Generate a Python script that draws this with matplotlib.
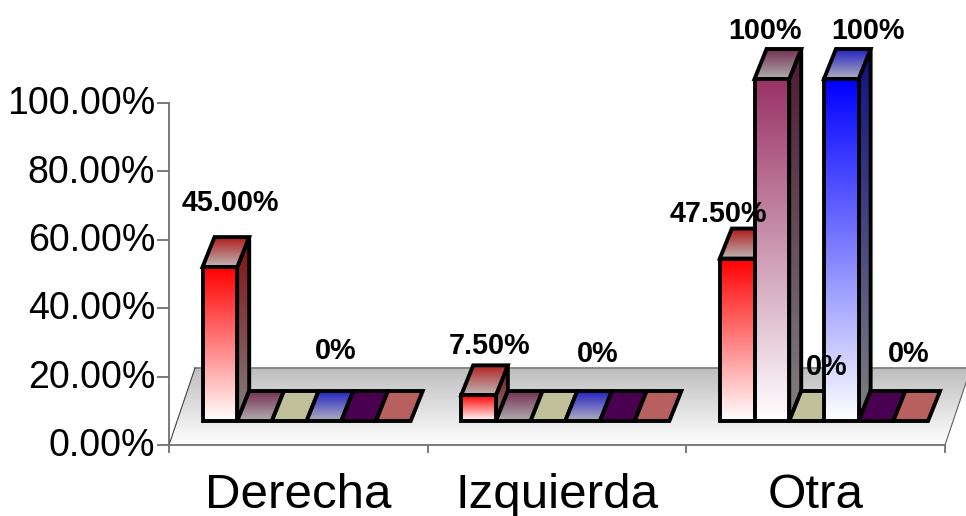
import matplotlib
matplotlib.use('Agg')
import matplotlib.pyplot as plt
import numpy as np
from matplotlib.colors import to_rgb
from matplotlib.patches import Polygon
from matplotlib.transforms import ScaledTranslation

plt.rcParams['font.family'] = ['Liberation Sans', 'DejaVu Sans']

categories = ['Derecha', 'Izquierda', 'Otra']
derecha = [45.0, 0, 0, 0, 0, 0]
izquierda = [7.5, 0, 0, 0, 0, 0]
otra = [47.5, 100, 0, 100, 0, 0]
y_ticks = [0, 20, 40, 60, 80, 100]
y_tick_labels = ['0.00%', '20.00%', '40.00%', '60.00%', '80.00%', '100.00%']

# group, series, text, x offset px, y offset px from the bar top
bar_labels = [
    (0, 0, '45.00%', 11, -64),
    (0, 3, '0%', 12, -70),
    (1, 0, '7.50%', 11, -49),
    (1, 3, '0%', 15, -67),
    (2, 0, '47.50%', -19, -45),
    (2, 1, '100%', -7, -48),
    (2, 3, '100%', 27, -48),
    (2, 2, '0%', 20, -54),
    (2, 5, '0%', -2, -67),
]

front_colors = ['#ff0000', '#993366', '#c0c09a', '#0000ff', '#4a0050', '#b86060']
top_back = ['#b01c1c', '#733050', '#c0c09a', '#2222c0', '#4a0050', '#b86060']
top_front = ['#c0b8b8', '#b0aeb0', '#c0c09a', '#b0b0c0', '#4a0050', '#b86060']
side_colors = ['#801010', '#4d1a33', '#606040', '#10107f', '#250028', '#5c3030']

# pixel geometry of the plot area
PX_LEFT, PX_RIGHT, PX_TOP, PX_BOTTOM = 169, 945, 103, 445
W, H = 966, 516
px_x = (PX_RIGHT - PX_LEFT) / len(categories)
px_y = (PX_BOTTOM - PX_TOP) / 100

bar_w = 34.7 / px_x
group_start = (202.5 - PX_LEFT) / px_x
depth_x = 12 / px_x
depth_y = 30 / px_y
base = 24 / px_y
floor_x = 26 / px_x
floor_y = 77 / px_y

fig = plt.figure(figsize=(W / 100, H / 100), dpi=100)
ax = fig.add_axes([PX_LEFT / W, 1 - PX_BOTTOM / H, (PX_RIGHT - PX_LEFT) / W, (PX_BOTTOM - PX_TOP) / H])
ax.set_xlim(0, len(categories))
ax.set_ylim(0, 100)
ax.set_autoscale_on(False)
ax.patch.set_visible(False)


def gradient_poly(verts, top_color, bottom_color, zorder, edge='black', lw=2.8):
    verts = np.array(verts)
    ramp = np.linspace(0, 1, 128)[:, None, None]
    img = np.array(to_rgb(top_color)) * (1 - ramp) + np.array(to_rgb(bottom_color)) * ramp
    extent = [verts[:, 0].min(), verts[:, 0].max(), verts[:, 1].min(), verts[:, 1].max()]
    im = ax.imshow(img, extent=extent, origin='upper', aspect='auto', zorder=zorder)
    clip = Polygon(verts, closed=True, transform=ax.transData)
    im.set_clip_box(fig.bbox)
    im.set_clip_path(clip)
    if edge is not None:
        ax.add_patch(Polygon(verts, closed=True, fill=False, edgecolor=edge, linewidth=lw,
                             joinstyle='miter', zorder=zorder + 0.5, clip_on=False))


# floor
floor = [(0, 0), (3, 0), (3 + floor_x, floor_y), (floor_x, floor_y)]
gradient_poly(floor, '#bebebe', '#ffffff', 1, edge=None)
ax.plot([floor_x, 3 + floor_x], [floor_y, floor_y], color='#808080', lw=1.3, clip_on=False, zorder=1.2)
ax.plot([0, floor_x], [0, floor_y], color='#404040', lw=0.8, clip_on=False, zorder=1.2)
ax.plot([3, 3 + floor_x], [0, floor_y], color='#606060', lw=0.8, clip_on=False, zorder=1.2)

# bars, painted left to right
z = 2
for g, values in enumerate([derecha, izquierda, otra]):
    for s, v in enumerate(values):
        x0 = g + group_start + s * bar_w
        x1 = x0 + bar_w
        y0 = base
        y1 = base + v
        if v > 0:
            side = [(x1, y0), (x1 + depth_x, y0 + depth_y), (x1 + depth_x, y1 + depth_y), (x1, y1)]
            gradient_poly(side, side_colors[s], '#808080', z)
            z += 1
        top = [(x0, y1), (x1, y1), (x1 + depth_x, y1 + depth_y), (x0 + depth_x, y1 + depth_y)]
        gradient_poly(top, top_back[s], top_front[s], z)
        z += 1
        if v > 0:
            front = [(x0, y0), (x1, y0), (x1, y1), (x0, y1)]
            gradient_poly(front, front_colors[s], '#ffffff', z)
            z += 1

all_values = [derecha, izquierda, otra]
for g, s, text, dx, dy in bar_labels:
    xc = g + group_start + (s + 0.5) * bar_w
    yc = base + all_values[g][s]
    ax.annotate(text, xy=(xc, yc), xytext=(dx * 0.72, -dy * 0.72), textcoords='offset points',
                ha='center', va='center', fontsize=20.7, fontweight='bold', color='black',
                annotation_clip=False, zorder=z + 5)

# axes
for name in ['top', 'right']:
    ax.spines[name].set_visible(False)
for name in ['left', 'bottom']:
    ax.spines[name].set_color('#707070')
    ax.spines[name].set_linewidth(1.3)
    ax.spines[name].set_zorder(1.5)

ax.set_yticks(y_ticks)
ax.set_yticklabels(y_tick_labels, fontsize=27)
ax.tick_params(axis='y', length=9, width=1.3, color='#707070', pad=1)
for label in ax.get_yticklabels():
    label.set_transform(label.get_transform() + ScaledTranslation(0, 2 / 72, fig.dpi_scale_trans))
ax.set_xticks([0, 1, 2, 3])
ax.set_xticklabels([])
ax.tick_params(axis='x', which='major', length=6, width=1.3, color='#707070')
ax.set_xticks([0.5, 1.5, 2.5], minor=True)
ax.set_xticklabels(categories, minor=True, fontsize=35.5)
ax.tick_params(axis='x', which='minor', length=0, pad=20)

fig.savefig('out.png', dpi=100)
